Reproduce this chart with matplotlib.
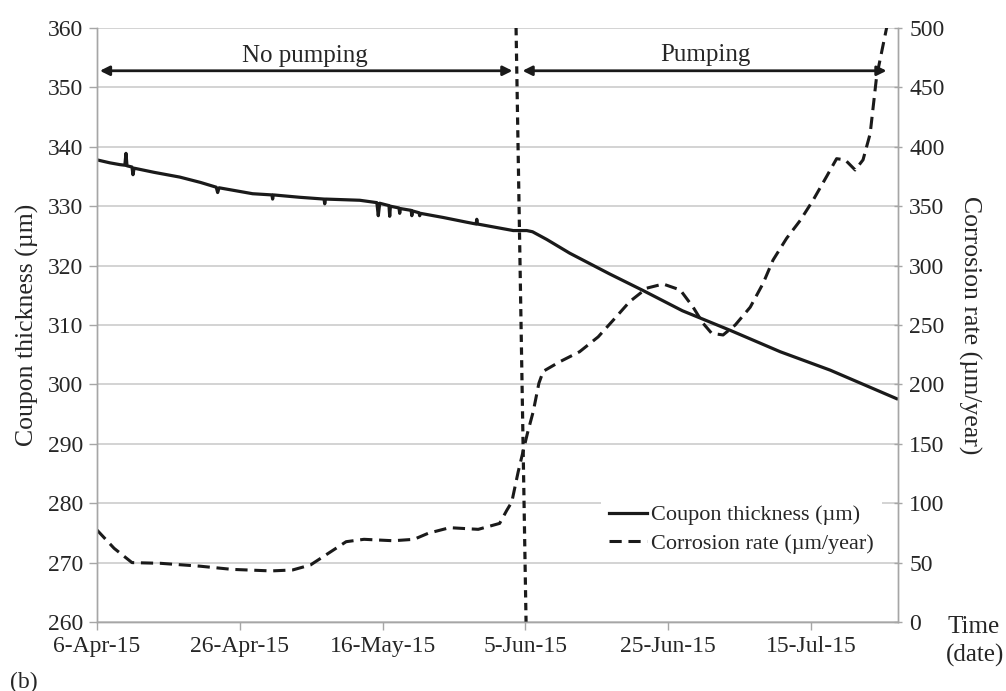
import matplotlib
matplotlib.use('Agg')
import matplotlib.pyplot as plt
import numpy as np

# days counted from 6-Apr-15
thick_days = [0.0, 1.8, 3.2, 3.9, 4.06, 4.2, 4.9, 5.04, 5.2, 8.0, 11.6, 14.5, 16.7, 16.9, 17.1,
              21.8, 24.5, 24.6, 24.7, 28.4, 31.8, 31.9, 32.0, 36.8, 39.2, 39.4, 39.6, 40.9,
              41.0, 41.1, 42.3, 42.4, 42.5, 44.0, 44.1, 44.2, 44.8, 45.1, 45.2, 45.3, 48.5,
              51.8, 53.1, 53.2, 53.3, 58.3, 60.2, 61.0, 63.0, 66.2, 71.8, 76.5, 82.0,
              88.7, 95.7, 102.7, 112.0]
thick_vals = [337.8, 337.3, 337.0, 336.9, 338.9, 336.8, 336.6, 335.3, 336.4, 335.7, 334.9, 334.0,
              333.2, 332.3, 333.1, 332.1, 331.9, 331.2, 331.9, 331.5, 331.2, 330.4, 331.2, 331.0,
              330.6, 328.4, 330.5, 330.1, 328.3, 330.0, 329.7, 328.8, 329.6, 329.3, 328.4, 329.2,
              329.0, 328.9, 328.4, 328.8, 328.1, 327.3, 327.0, 327.8, 327.0, 325.9, 325.9, 325.7,
              324.4, 322.1, 318.6, 315.8, 312.4, 309.1, 305.5, 302.4, 297.6]

rate_days = [0.0, 2.4, 4.9, 8.9, 14.4, 18.9, 24.4, 27.4, 29.9, 32.4, 34.9, 37.4, 41.5, 44.4,
             46.4, 49.4, 53.4, 56.4, 57.4, 58.1, 59.0, 60.3, 61.1, 61.9, 62.5, 64.8, 67.6,
             70.2, 72.3, 74.6, 77.0, 79.3, 81.7, 83.5, 84.9, 86.1, 87.7, 89.4, 91.5, 93.3,
             94.7, 96.6, 98.5, 100.3, 102.2, 103.6, 104.8, 106.2, 107.3, 108.3, 109.2, 110.6,
             111.2]
rate_vals = [77.4, 62, 50, 49.4, 47, 44.3, 43, 43.8, 48, 57.8, 67.6, 69.6, 68.4, 69.6,
             74.7, 79.4, 78, 83, 94, 101, 126.5, 159, 177, 201, 211, 219, 227.5,
             240, 254, 269.6, 281, 284.5, 279.5, 265, 251.4, 243, 241.6, 250, 265, 285,
             304.7, 323, 338, 355, 375, 390, 389, 380.5, 389, 411, 459, 500, 530]

# pumping start marker (left axis units)
start_days = [58.7, 60.1]
start_vals = [360, 260]

tick_days = [0, 20, 40, 60, 80, 100]
tick_labels = ['6-Apr-15', '26-Apr-15', '16-May-15', '5-Jun-15', '25-Jun-15', '15-Jul-15']

plt.rcParams['font.family'] = ['Liberation Serif', 'DejaVu Serif']
txt = '#262626'
spine = '#a6a6a6'

fig = plt.figure(figsize=(10.06, 6.91), dpi=100)
ax = fig.add_axes([97/1006, 1-622/691, (898-97)/1006, (622-28)/691])
ax2 = ax.twinx()

ax.set_xlim(0, 112.2)
ax.set_ylim(260, 360)
ax2.set_ylim(0, 500)
ax.set_yticks(np.arange(260, 361, 10))
ax2.set_yticks(np.arange(0, 501, 50))
ax.set_xticks(tick_days)
ax.set_xticklabels(tick_labels)
ax.grid(True, axis='y', color='#cccccc', lw=1.2)
ax.set_axisbelow(True)

for a in (ax, ax2):
    for s in a.spines.values():
        s.set_color(spine)
        s.set_linewidth(1.0)
    a.spines['top'].set_visible(False)
ax.tick_params(axis='both', labelsize=17, colors=spine, labelcolor=txt, length=6, width=1.0, pad=4)
ax2.tick_params(axis='y', labelsize=17, colors=spine, labelcolor=txt, length=6, width=1.0,
                direction='inout', pad=5)

l1, = ax.plot(thick_days, thick_vals, color='#1a1a1a', lw=2.3, solid_joinstyle='round',
              label='Coupon thickness (\u00b5m)')
ax.plot(start_days, start_vals, color='#1a1a1a', lw=2.3, linestyle=(0, (2.3, 1.7)))
l2, = ax2.plot(rate_days, rate_vals, color='#1a1a1a', lw=2.2, linestyle=(0, (4, 2.2)),
               label='Corrosion rate (\u00b5m/year)')

# period arrows
arr = dict(arrowstyle='<|-|>', color='#1a1a1a', lw=2.0, mutation_scale=14, shrinkA=0, shrinkB=0)
ax.annotate('', xy=(0.4, 352.8), xytext=(58.2, 352.8), arrowprops=arr)
ax.annotate('', xy=(59.6, 352.8), xytext=(110.6, 352.8), arrowprops=arr)
ax.text(29.1, 354.3, 'No pumping', ha='center', va='baseline', fontsize=18, color=txt)
ax.text(85.2, 354.4, 'Pumping', ha='center', va='baseline', fontsize=18, color=txt)

ax.set_ylabel('Coupon thickness (\u00b5m)', fontsize=18.5, color=txt, labelpad=6)
ax2.set_ylabel('Corrosion rate (\u00b5m/year)', fontsize=18.5, color=txt, rotation=270,
               labelpad=26)

leg = ax2.legend(handles=[l1, l2], loc='upper left', bbox_to_anchor=(601/1006, 1-497/691),
                 bbox_transform=fig.transFigure, fontsize=16, frameon=True, framealpha=1,
                 facecolor='white', edgecolor='none', fancybox=False, borderpad=0.35,
                 borderaxespad=0, handlelength=1.7, handletextpad=0.2, labelspacing=0.35)
for t in leg.get_texts():
    t.set_color(txt)

fig.text(948/1006, 1-633/691, 'Time', fontsize=18, color=txt, ha='left', va='baseline')
fig.text(946/1006, 1-662/691, '(date)', fontsize=18, color=txt, ha='left', va='baseline')
fig.text(10/1006, 1-688/691, '(b)', fontsize=17, color=txt, ha='left', va='baseline')

fig.savefig('out.png', dpi=100)
